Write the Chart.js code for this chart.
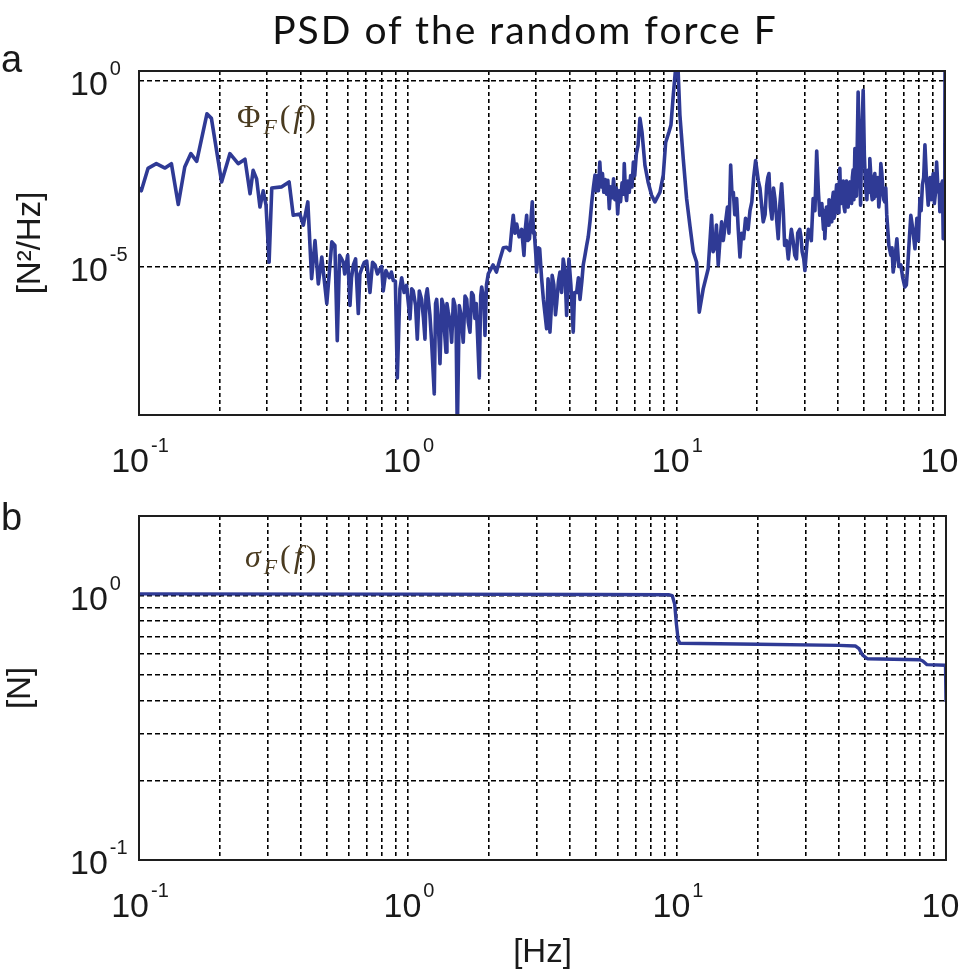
<!DOCTYPE html>
<html><head><meta charset="utf-8">
<script src="https://cdn.jsdelivr.net/npm/chart.js@4.4.1/dist/chart.umd.min.js"></script>
<style>
html,body{margin:0;padding:0;background:#fff;}
#wrap{position:relative;width:960px;height:970px;overflow:hidden;background:#fff;}
canvas{position:absolute;left:0;}
.t{position:absolute;white-space:nowrap;color:#111;}
#title{left:0;width:1050px;text-align:center;top:10px;font-family:Lato,sans-serif;font-size:39px;line-height:39px;letter-spacing:2px;color:#111;}
.pl{font-family:"Liberation Sans",Arial,sans-serif;font-size:38px;line-height:38px;left:1px;color:#1a1a1a;}
.ml{font-family:"Liberation Serif","DejaVu Serif",serif;font-size:32px;line-height:32px;letter-spacing:3px;color:#4a3b20;}
.ml sub{font-size:0.68em;vertical-align:-0.3em;line-height:0;}
</style></head><body>
<div id="wrap">
<canvas id="c1" width="960" height="480" style="top:0"></canvas>
<canvas id="c2" width="960" height="490" style="top:480px"></canvas>
<div class="t" id="title">PSD of the random force F</div>
<div class="t pl" style="top:40px">a</div>
<div class="t pl" style="top:498px">b</div>
<div class="t ml" style="top:100px;left:237px">Φ<sub><i>F</i></sub>(<i>f</i>)</div>
<div class="t ml" style="top:540px;left:245px"><i>σ</i><sub><i>F</i></sub>(<i>f</i>)</div>
</div>
<script>
// ---------- data ----------
const psdFreq = [
0.100,0.102,0.108,0.116,0.125,0.132,0.140,0.148,0.156,0.164,0.179,0.186,0.203,0.218,0.234,0.248,0.259,0.266,0.274,0.282,
0.290,0.297,0.305,0.312,0.340,0.362,0.375,0.397,0.409,0.425,0.439,0.452,0.465,0.479,0.500,0.522,0.536,0.547,0.568,0.576,
0.590,0.610,0.628,0.655,0.674,0.704,0.724,0.756,0.789,0.811,0.830,0.884,0.915,0.936,0.990,1.02,1.049,1.086,1.127,1.16,
1.183,1.228,1.256,1.282,1.319,1.357,1.389,1.416,1.458,1.50,1.53,1.556,1.61,1.659,1.706,1.754,1.80,1.847,1.886,1.94,
1.995,2.08,2.14,2.206,2.27,2.336,2.40,2.44,2.472,2.51,2.546,2.60,2.657,2.709,2.74,2.773,2.80,2.84,2.88,2.909,
2.94,2.96,3.00,3.02,3.06,3.10,3.15,3.20,3.29,3.33,3.385,3.45,3.585,3.688,3.793,3.905,3.983,4.133,4.256,4.38,
4.503,4.637,4.770,4.91,4.98,5.03,5.08,5.13,5.19,5.25,5.31,5.37,5.44,5.50,5.56,5.63,5.70,5.77,5.84,5.91,
5.98,6.05,6.12,6.20,6.28,6.36,6.40,6.47,6.53,6.60,6.68,6.76,6.84,6.92,7.00,7.10,7.20,7.32,7.45,7.64,
7.85,8.09,8.325,8.69,8.94,9.125,9.387,9.55,9.74,9.94,10.16,10.31,10.61,10.92,11.23,11.56,11.90,12.17,12.59,13.14,
13.53,13.7,13.92,14.1,14.32,14.5,14.74,14.95,15.2,15.5,15.7,15.93,16.1,16.3,16.5,16.77,17.0,17.25,17.5,17.8,
18.1,18.5,18.8,19.1,19.4,19.73,20.47,21.06,21.68,22.12,22.7,23.28,23.95,24.66,25.3,26.1,26.8,27.6,28.3,28.8,
29.4,30.1,30.7,31.4,32.3,33.3,33.8,34.2,34.8,35.3,35.7,36.2,36.8,37.3,37.9,38.4,38.9,39.5,40.0,40.6,
41.2,41.8,42.4,43.0,43.6,44.3,44.9,45.5,46.2,46.8,47.5,48.0,48.5,49.0,49.6,50.1,50.6,51.2,51.8,52.5,
53.2,54.0,54.8,55.8,56.7,57.7,58.7,59.7,60.7,61.8,64.14,66.2,68.5,70.9,72.7,74.6,77.3,80.66,82.4,84.2,
85.4,86.6,88.0,89.6,91.3,93.07,94.3,95.7,97.0,98.5,99.3,99.7,100
];
const psdValue = [
1.3e-3,1.1e-3,4.4e-3,5.9e-3,4.5e-3,5.9e-3,4.7e-4,4.8e-3,1.1e-2,6.8e-3,1.3e-1,9.8e-2,1.9e-3,1.1e-2,5.9e-3,7.8e-3,9.1e-4,3.9e-3,2.3e-3,4.0e-4,
1.1e-3,4.5e-4,1.3e-5,1.3e-3,1.4e-3,1.9e-3,2.4e-4,2.6e-4,1.3e-4,5.5e-4,4.7e-6,5.0e-5,3.4e-6,1.8e-5,1.0e-6,4.6e-5,3.7e-5,1.0e-7,1.6e-5,1.3e-5,
1.1e-5,8.9e-7,1.1e-5,5.4e-7,8.7e-6,1.4e-5,2.0e-6,1.1e-5,8.7e-6,2.2e-6,7.8e-6,4.2e-6,1.0e-8,2.5e-6,3.1e-6,3.9e-7,2.2e-6,1.1e-7,1.3e-6,1.1e-7,
2.5e-6,9.1e-8,3.7e-9,1.3e-6,2.4e-8,8.9e-7,4.9e-8,5.9e-7,9.1e-8,8.9e-7,3.0e-10,8.9e-7,9.1e-8,1.3e-6,1.7e-7,1.7e-6,1.0e-6,1.0e-8,2.8e-6,1.4e-7,
6.3e-6,1.1e-5,7.1e-6,1.6e-5,3.2e-5,3.3e-5,2.7e-5,1.0e-4,2.4e-4,7.9e-5,1.4e-4,6.3e-5,1.0e-4,2.0e-5,1.0e-4,2.4e-4,5.0e-5,5.6e-5,2.0e-4,5.5e-4,
7.9e-5,8.5e-5,2.0e-5,7.1e-6,3.2e-5,3.0e-5,5.0e-6,1.3e-6,2.1e-7,4.7e-6,1.7e-7,5.8e-6,1.0e-6,7.1e-6,1.6e-5,4.8e-7,1.6e-5,1.7e-7,2.0e-6,1.3e-6,
1.1e-5,3.7e-5,1.6e-4,1.3e-3,2.9e-3,1.1e-3,2.8e-3,1.1e-3,6.5e-3,1.4e-3,3.2e-3,1.0e-3,2.2e-3,8.9e-4,2.1e-3,3.6e-4,1.4e-3,7.1e-4,2.3e-3,6.3e-4,
1.3e-3,2.6e-4,1.1e-3,5.6e-4,1.8e-3,8.9e-4,5.9e-3,1.0e-3,6.0e-4,2.0e-3,1.0e-3,2.8e-3,1.4e-3,6.5e-3,2.8e-3,1.1e-2,1.8e-2,9.8e-2,4.2e-2,5.4e-3,
1.9e-3,8.3e-4,5.5e-4,1.0e-3,2.9e-3,2.2e-2,4.2e-2,6.5e-2,4.1e-1,2.2,1.7,1.2e-1,8.1e-3,6.8e-4,1.3e-4,2.5e-5,1.3e-5,5.9e-7,2.5e-6,8.7e-6,
2.4e-4,2.5e-5,3.3e-5,1.3e-4,1.1e-5,4.0e-5,1.6e-4,5.0e-5,1.3e-4,4.0e-4,7.9e-5,5.4e-3,1.0e-3,1.0e-3,2.5e-4,6.8e-4,1.0e-4,1.8e-5,7.9e-5,5.6e-5,
2.0e-4,1.0e-4,3.2e-4,5.5e-4,2.5e-3,7.2e-3,1.3e-3,1.6e-4,1.5e-3,3.2e-3,1.9e-4,6.8e-4,5.6e-5,1.7e-3,3.7e-5,1.6e-5,1.0e-4,2.0e-5,7.9e-5,1.0e-4,
2.5e-5,7.8e-6,5.0e-5,8.5e-5,6.8e-4,1.3e-2,1.0e-3,2.4e-4,5.0e-4,1.0e-4,5.6e-5,4.0e-4,1.3e-4,4.5e-4,1.6e-4,1.0e-3,2.5e-4,1.6e-3,2.8e-4,4.4e-3,
5.0e-4,2.0e-3,3.0e-4,2.0e-3,4.0e-4,1.9e-3,5.0e-4,4.0e-3,1.5e-2,7.9e-4,5.0e-1,1.0e-2,4.5e-4,3.2e-2,5.6e-1,1.0e-2,1.5e-3,6.3e-4,4.0e-3,8.1e-3,
1.0e-3,6.8e-4,3.2e-3,1.5e-3,4.0e-4,5.9e-3,1.3e-3,5.5e-4,2.5e-4,3.7e-5,7.1e-6,5.6e-5,1.1e-5,2.8e-6,1.1e-5,2.4e-4,3.0e-5,6.8e-4,1.6e-3,1.9e-2,
2.0e-3,4.5e-4,2.5e-3,1.9e-3,5.0e-4,6.5e-3,1.0e-3,3.0e-4,1.6e-3,5.6e-5,6.8e-4,1.3e-4,2.2
];
// extra points inside the dense (noisy) bands of the PSD
const psdFreqBand = [
0.558,0.583,0.598,0.618,0.640,0.664,0.690,0.714,0.740,0.772,0.800,0.855,0.870,0.900,0.950,0.970,
1.035,1.07,1.105,1.145,1.17,1.21,1.27,1.30,1.34,1.37,1.40,1.44,1.48,1.515,1.58,1.635,1.68,1.73,1.78,1.87,1.92,1.965,
3.36,3.42,3.50,3.55,3.64,3.74,3.85,3.94,4.05,4.18,4.32,4.45,4.57,4.70,4.84,
20.2,20.8,21.4,21.9,22.4,23.0,23.6,24.3,25.0,25.7,
27.2,28.0,29.1,29.8,30.4,31.0,31.8,32.8,35.0,35.5,36.5,37.0,37.6,38.1,38.6,39.2,39.8,40.3,40.9,41.5,
42.1,42.7,43.3,44.0,44.6,45.2,45.8,51.5,52.2,52.9,53.6,54.4,55.3,56.2,57.2,58.2,59.2,60.2,
62.9,63.5,65.1,67.3,69.6,71.8,73.6,75.9,78.6,79.6,
81.5,83.3,87.3,88.8,90.4,92.2,95.0,96.3,97.8,98.9
];
const psdValueBand = [
2.0e-5,6.3e-6,2.0e-5,5.0e-6,1.6e-5,6.3e-6,1.3e-5,5.0e-6,1.3e-5,6.3e-6,1.0e-5,5.0e-6,7.1e-6,4.0e-6,5.0e-6,2.0e-6,
2.5e-6,8.9e-7,2.2e-6,4.0e-7,1.6e-6,5.0e-7,1.0e-6,3.2e-7,1.3e-6,2.0e-7,1.0e-6,3.2e-7,1.3e-6,2.0e-7,5.0e-7,1.6e-6,3.2e-7,2.0e-6,4.0e-7,1.6e-6,1.3e-6,3.2e-6,
2.0e-6,6.3e-7,3.2e-6,5.0e-7,4.0e-6,2.0e-6,7.9e-6,2.5e-6,3.2e-6,2.0e-6,5.0e-6,4.0e-6,2.0e-5,6.3e-5,5.0e-4,
2.0e-3,4.0e-4,2.5e-4,2.5e-3,4.0e-4,1.3e-3,2.0e-4,5.0e-4,3.2e-4,5.0e-5,
5.0e-5,1.6e-5,6.3e-5,1.6e-5,2.0e-5,1.0e-4,5.0e-5,3.2e-4,2.5e-4,3.2e-4,1.6e-4,6.3e-4,2.5e-4,6.3e-4,2.0e-4,7.9e-4,3.2e-4,1.0e-3,5.0e-4,1.3e-3,
4.0e-4,1.6e-3,5.0e-4,1.3e-3,6.3e-4,2.5e-3,6.3e-4,2.0e-3,1.0e-3,3.2e-3,6.3e-4,2.5e-3,7.9e-4,2.5e-3,7.9e-4,3.2e-3,6.3e-4,1.3e-3,
2.0e-5,3.2e-5,1.6e-5,1.0e-5,5.0e-6,3.2e-6,5.0e-5,1.0e-4,2.0e-4,5.0e-5,
3.2e-4,2.5e-3,1.3e-3,6.3e-4,3.2e-3,1.0e-3,1.6e-3,6.3e-4,2.0e-3,3.2e-4
];
const sigmaFreq  = [0.1, 1, 5, 9.3, 9.6, 9.8, 9.95, 10.1, 10.25, 20, 40, 46, 47.5, 49, 51, 80, 82, 85, 99.6, 100];
const sigmaValue = [1.015, 1.013, 1.010, 1.008, 1.0, 0.93, 0.78, 0.68, 0.66, 0.655, 0.648, 0.645, 0.63, 0.595, 0.577, 0.572, 0.566, 0.548, 0.545, 0.396];

const xGridTicks = [0.1,0.2,0.3,0.4,0.5,0.6,0.7,0.8,0.9,1,2,3,4,5,6,7,8,9,10,20,30,40,50,60,70,80,90,100];
const xLabelValues = [0.1, 1, 10, 100];
const xLabelExps   = ['-1', '0', '1', '2'];
const psdYTicks = [1e-5, 1];
const psdYExps  = ['-5', '0'];
const sigmaYTicks = [0.1,0.2,0.3,0.4,0.5,0.6,0.7,0.8,0.9,1];
const sigmaYLabelValues = [0.1, 1];
const sigmaYExps = ['-1', '0'];

// ---------- helpers ----------
const lineColor = '#2f3a95';
const titleFont = {family: '"Liberation Sans", Arial, sans-serif', size: 33, lineHeight: 1};
const boxPlugin = {
  id: 'box',
  afterDraw(chart) {
    const {ctx, chartArea: a} = chart;
    ctx.save();
    ctx.setLineDash([]);
    ctx.strokeStyle = '#1e1e1e';
    ctx.lineWidth = 2;
    ctx.strokeRect(a.left, a.top, a.right - a.left, a.bottom - a.top);
    ctx.restore();
  }
};
// power-of-ten tick labels "10" with raised exponent, placed via the chart's own scales
function powerLabels(yVals, yExps) {
  return {
    id: 'powerLabels',
    afterDraw(chart) {
      const ctx = chart.ctx, xs = chart.scales.x, ys = chart.scales.y, a = chart.chartArea;
      const baseFont = '34px "Liberation Sans", Arial, sans-serif';
      const expFont = '20px "Liberation Sans", Arial, sans-serif';
      ctx.save();
      ctx.fillStyle = '#1a1a1a';
      ctx.textBaseline = 'alphabetic';
      ctx.textAlign = 'left';
      const put = (left, base, exp) => {
        ctx.font = baseFont; ctx.fillText('10', left, base);
        const wb = ctx.measureText('10').width;
        ctx.font = expFont; ctx.fillText(exp, left + wb + 2, base - 20);
      };
      const widthOf = exp => {
        ctx.font = baseFont; const wb = ctx.measureText('10').width;
        ctx.font = expFont; return wb + 2 + ctx.measureText(exp).width;
      };
      xLabelValues.forEach((v, i) => {
        const px = xs.getPixelForValue(v);
        put(px - widthOf(xLabelExps[i]) / 2 + 1, a.bottom + 57, xLabelExps[i]);
      });
      yVals.forEach((v, i) => {
        const py = ys.getPixelForValue(v);
        put(70, py + 14, yExps[i]);
      });
      ctx.restore();
    }
  };
}
function xScale(height) {
  return {
    type: 'logarithmic', min: 0.1, max: 100,
    afterBuildTicks: s => { s.ticks = xGridTicks.map(v => ({value: v})); },
    afterFit: s => { s.height = height; s.paddingLeft = 0; s.paddingRight = 0; },
    grid: {color: '#000', lineWidth: 1.6, drawTicks: false},
    border: {display: false, dash: [4, 3]},
    ticks: {display: false}
  };
}
function yScale(min, max, gridTicks, titleText, titlePad) {
  return {
    type: 'logarithmic', min: min, max: max,
    afterBuildTicks: s => { s.ticks = gridTicks.map(v => ({value: v})); },
    afterFit: s => { s.width = 139; s.paddingTop = 0; s.paddingBottom = 0; },
    grid: {color: '#000', lineWidth: 1.6, drawTicks: false},
    border: {display: false, dash: [5, 3]},
    ticks: {display: false},
    title: {display: true, text: titleText, color: '#1a1a1a', font: titleFont, padding: {top: titlePad, bottom: 0}}
  };
}
function commonOptions() {
  return {
    responsive: false, animation: false, devicePixelRatio: 1, events: [],
    plugins: {legend: {display: false}, tooltip: {enabled: false}, title: {display: false}},
  };
}

// ---------- chart a ----------
const psdPoints = psdFreq.map((f, i) => ({x: f, y: psdValue[i]}))
  .concat(psdFreqBand.map((f, i) => ({x: f, y: psdValueBand[i]})))
  .sort((p, q) => p.x - q.x);
const optA = commonOptions();
optA.layout = {padding: {left: 0, right: 15, top: 71, bottom: 0}};
optA.scales = {
  x: xScale(65),
  y: yScale(1e-9, 1.85, psdYTicks, '[N²/Hz]', 14)
};
new Chart(document.getElementById('c1'), {
  type: 'line',
  data: {datasets: [{
    data: psdPoints,
    borderColor: lineColor, borderWidth: 3.6, pointRadius: 0, tension: 0, fill: false,
    borderJoinStyle: 'round', borderCapStyle: 'round'
  }]},
  options: optA,
  plugins: [boxPlugin, powerLabels(psdYTicks, psdYExps)]
});

// ---------- chart b ----------
const optB = commonOptions();
optB.layout = {padding: {left: 0, right: 14, top: 36, bottom: 0}};
const xb = xScale(110);
xb.title = {display: true, text: '[Hz]', color: '#1a1a1a', font: titleFont, padding: {top: 0, bottom: 1}};
optB.scales = {
  x: xb,
  y: yScale(0.1, 2, sigmaYTicks, '[N]', 4)
};
new Chart(document.getElementById('c2'), {
  type: 'line',
  data: {datasets: [{
    data: sigmaFreq.map((f, i) => ({x: f, y: sigmaValue[i]})),
    borderColor: lineColor, borderWidth: 3.4, pointRadius: 0, tension: 0, fill: false,
    borderJoinStyle: 'round'
  }]},
  options: optB,
  plugins: [boxPlugin, powerLabels(sigmaYLabelValues, sigmaYExps)]
});
</script>
</body></html>
